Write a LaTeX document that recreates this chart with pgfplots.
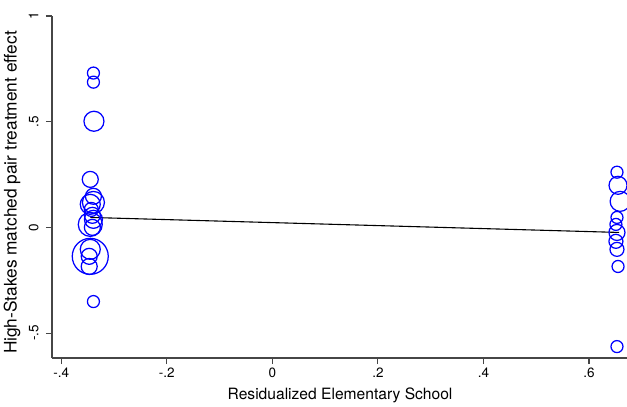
\documentclass[border=0pt]{standalone}
\usepackage{pgfplots}
\pgfplotsset{compat=1.18}
\usepackage{pgfplotstable}
\usepackage{fontspec}
\setmainfont{TeX Gyre Heros}
\definecolor{spine}{RGB}{70,70,70}

\pgfplotstableread{
x y r
-0.339 0.730 6
-0.339 0.687 6
-0.338 0.502 10
-0.345 0.227 8
-0.339 0.147 8
-0.339 0.118 11
-0.345 0.109 10
-0.343 0.085 7
-0.341 0.057 8
-0.339 0.038 9
-0.345 0.014 12
-0.341 0.000 8
-0.345 -0.104 10
-0.345 -0.137 18
-0.347 -0.137 8
-0.347 -0.185 8
-0.339 -0.351 6
0.653 0.261 6
0.655 0.199 9
0.659 0.123 10
0.653 0.047 6
0.651 0.014 6
0.653 -0.024 8
0.651 -0.066 7
0.653 -0.104 7
0.655 -0.185 6
0.653 -0.564 6
}\pts

\begin{document}
\begin{tikzpicture}
\useasboundingbox (-52pt,-49pt) rectangle (575pt,358pt);
\begin{axis}[
  scale only axis,
  width=575pt, height=342pt,
  xmin=-0.4175, xmax=0.672,
  ymin=-0.618, ymax=1.0,
  axis x line*=bottom, axis y line*=left,
  axis line style={-, draw=spine, line width=1.4pt},
  tick align=outside,
  major tick length=6pt,
  tick style={draw=spine, line width=1.1pt},
  xtick={-0.4,-0.2,0,0.2,0.4,0.6},
  xticklabels={-.4,-.2,0,.2,.4,.6},
  ytick={-0.5,0,0.5,1},
  yticklabels={-.5,0,.5,1},
  ticklabel style={font=\fontsize{13.5}{15}\selectfont},
  yticklabel style={rotate=90, anchor=south},
  yticklabel shift={4pt},
  xlabel={Residualized Elementary School},
  ylabel={High-Stakes matched pair treatment effect},
  xlabel style={font=\fontsize{15.6}{17}\selectfont, at={(axis description cs:0.501,-0.108)}, anchor=center},
  ylabel style={font=\fontsize{17.3}{19}\selectfont, at={(axis description cs:-0.0696,0.484)}, anchor=center, rotate=0},
  clip=true,
]
\addplot[scatter, only marks, mark=o, line width=1.25pt,
  mark options={line width=1.25pt},
  visualization depends on={\thisrow{r} \as \rad},
  scatter/use mapped color={draw=blue, fill=none},
  scatter/@pre marker code/.append style={/tikz/mark size=\rad},
] table[x=x, y=y] {\pts};
\addplot[black, line width=1.1pt, no marks] coordinates {(-0.345,0.047) (0.657,-0.024)};
\end{axis}
\end{tikzpicture}
\end{document}
